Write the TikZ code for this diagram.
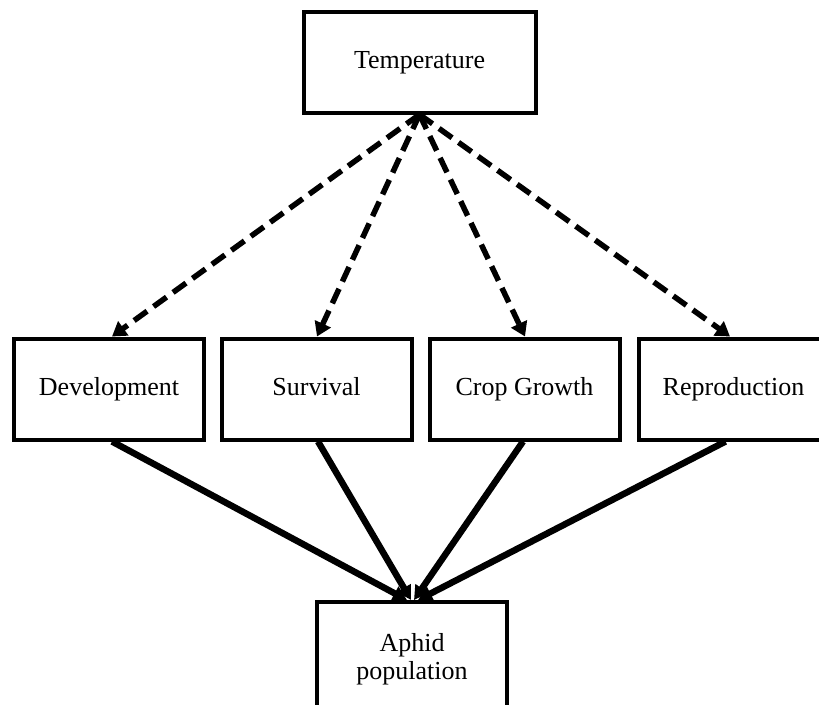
\documentclass[tikz,border=0pt]{standalone}
\usepackage{fontspec}
\setmainfont{Liberation Serif}
\usetikzlibrary{arrows.meta}
\begin{document}
\begin{tikzpicture}[x=1pt,y=-1pt,
  box/.style={draw, line width=4pt, minimum width=190pt, minimum height=101pt,
    inner sep=0pt, align=center, text height=17pt, text depth=5pt,
    font=\fontsize{26}{29}\selectfont},
  dasharrow/.style={draw, line width=5.5pt, dash pattern=on 16pt off 8pt,
    -{Triangle[length=14pt,width=17pt]}},
  solidarrow/.style={draw, line width=6.5pt, -{Triangle[length=14pt,width=15pt]}}]
  \useasboundingbox (0,0) rectangle (819,704);
  \clip (0,0) rectangle (819,704);
  \fill[white] (0,0) rectangle (819,704);

  % top factor
  \node[box, minimum width=232pt] (temp) at (419.5,62) {Temperature};

  % processes
  \node[box] (dev)  at (109,389)   {Development};
  \node[box] (surv) at (316.5,389) {Survival};
  \node[box] (crop) at (524.5,389) {Crop Growth};
  \node[box] (repr) at (733.5,389) {Reproduction};

  % outcome (its lower edge runs past the page)
  \node[box, minimum height=114pt, text height=, text depth=,
    font=\fontsize{26}{28}\selectfont] (aph) at (412,659) {Aphid\\population};

  % temperature effects
  \draw[dasharrow] (temp.south) -- ([xshift=3pt]dev.north);
  \draw[dasharrow] (temp.south) -- ([xshift=0.5pt]surv.north);
  \draw[dasharrow] (temp.south) -- ([xshift=0.5pt]crop.north);
  \draw[dasharrow] (temp.south) -- ([xshift=-3.5pt]repr.north);

  % effects on the population
  \draw[solidarrow] ([xshift=3pt]dev.south)  -- ([xshift=-5pt]aph.north);
  \draw[solidarrow] ([xshift=1.5pt]surv.south) -- ([xshift=-1pt]aph.north);
  \draw[solidarrow] ([xshift=-1.5pt]crop.south) -- ([xshift=2pt]aph.north);
  \draw[solidarrow] ([xshift=-8pt]repr.south) -- ([xshift=6pt]aph.north);
\end{tikzpicture}
\end{document}
